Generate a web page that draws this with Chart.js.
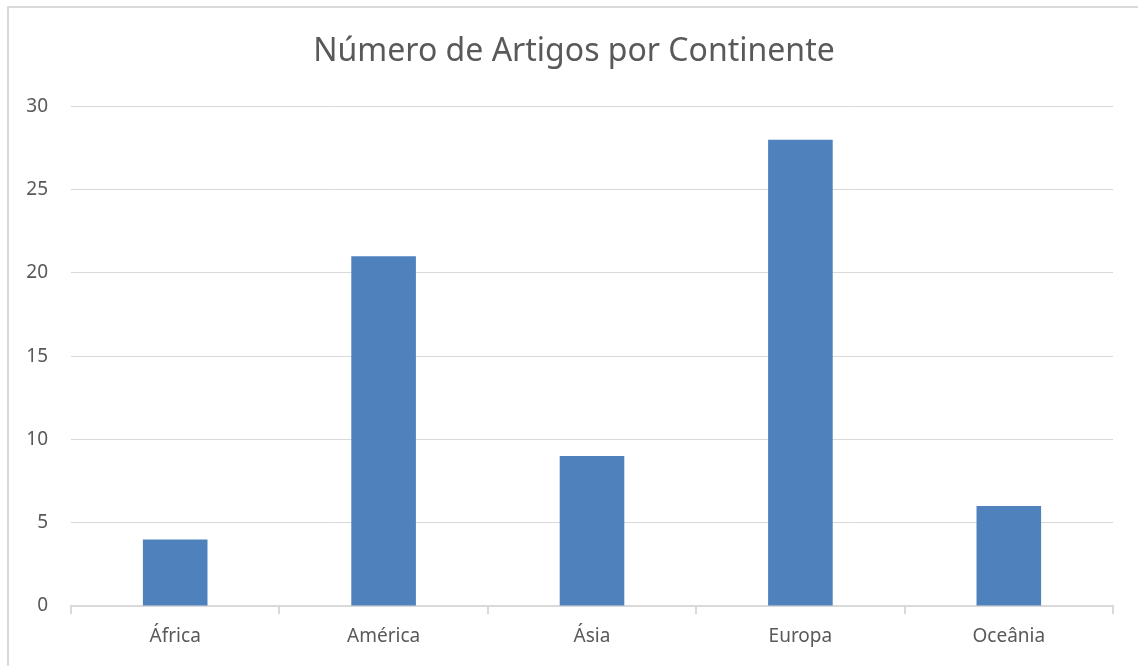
<!DOCTYPE html>
<html>
<head>
<meta charset="utf-8">
<script src="https://cdn.jsdelivr.net/npm/chart.js@4"></script>
<style>
  body { margin: 0; background: #fff; overflow: hidden; }
  #frame { position: absolute; left: 7px; top: 6px; width: 1200px; height: 800px; border: 2px solid #d9d9d9; box-sizing: border-box; }
  #c { position: absolute; left: 0; top: 0; }
</style>
</head>
<body>
<div id="frame"></div>
<canvas id="c" width="1138" height="666"></canvas>
<script>
var continentes = ['África', 'América', 'Ásia', 'Europa', 'Oceânia'];
var artigos = [4, 21, 9, 28, 6];
var titulo = 'Número de Artigos por Continente';

var cinza = '#595959';
var linha = '#d9d9d9';
var fonte = '"Noto Sans", "Open Sans", sans-serif';

// the title sits a bit right of the canvas centre in the original
var tituloDeslocado = {
    id: 'tituloDeslocado',
    afterLayout: function (chart) {
        var t = chart.titleBlock;
        if (t) { t.left = 35; t.width = t.right - t.left; }
    }
};

new Chart(document.getElementById('c'), {
    type: 'bar',
    data: {
        labels: continentes,
        datasets: [{
            data: artigos,
            backgroundColor: '#4f81bd',
            barPercentage: 0.31,
            categoryPercentage: 1
        }]
    },
    options: {
        responsive: false,
        animation: false,
        layout: { padding: { left: 0, right: 25, top: 0, bottom: 0 } },
        plugins: {
            legend: { display: false },
            tooltip: { enabled: false },
            title: {
                display: true,
                text: titulo,
                color: cinza,
                font: { family: fonte, size: 32, weight: 'normal' },
                padding: { top: 33, bottom: 35 }
            }
        },
        scales: {
            x: {
                grid: {
                    offset: true,
                    drawOnChartArea: false,
                    drawTicks: true,
                    tickLength: 8,
                    color: linha,
                    lineWidth: 2
                },
                border: { color: linha, width: 2 },
                ticks: { color: cinza, padding: 11, font: { family: fonte, size: 19 } },
                afterFit: function (s) { s.height = 60; }
            },
            y: {
                min: 0,
                max: 30,
                ticks: { stepSize: 5, color: cinza, padding: 23, font: { family: fonte, size: 19 } },
                grid: { color: linha, lineWidth: 1, drawTicks: false },
                border: { display: false },
                afterFit: function (s) { s.width = 71; }
            }
        }
    },
    plugins: [tituloDeslocado]
});
</script>
</body>
</html>
